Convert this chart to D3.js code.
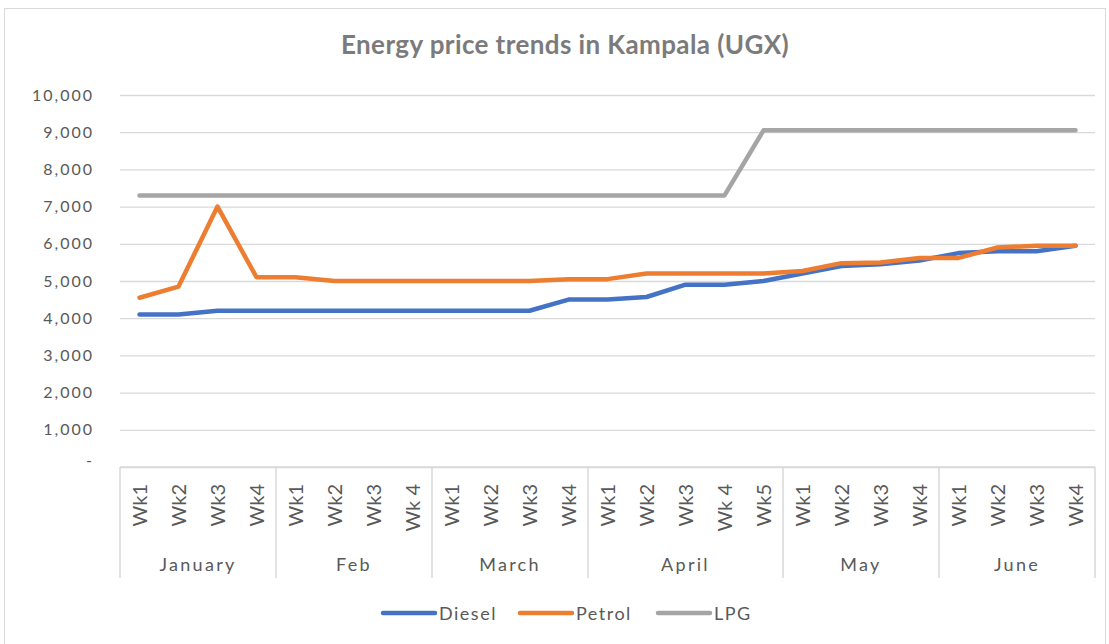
<!DOCTYPE html>
<html>
<head>
<meta charset="utf-8">
<script src="https://cdn.jsdelivr.net/npm/d3@7"></script>
<style>
  body { margin: 0; background: #fff; }
  svg { display: block; font-family: Lato, "Open Sans", sans-serif; }
</style>
</head>
<body>
<svg width="1109" height="644"></svg>
<script>
// month groups and their week labels
const months = ['January', 'Feb', 'March', 'April', 'May', 'June']
const weeks = [
    ['Wk1', 'Wk2', 'Wk3', 'Wk4'],
    ['Wk1', 'Wk2', 'Wk3', 'Wk 4'],
    ['Wk1', 'Wk2', 'Wk3', 'Wk4'],
    ['Wk1', 'Wk2', 'Wk3', 'Wk 4', 'Wk5'],
    ['Wk1', 'Wk2', 'Wk3', 'Wk4'],
    ['Wk1', 'Wk2', 'Wk3', 'Wk4']
]

const diesel = [4100, 4100, 4200, 4200, 4200, 4200, 4200, 4200, 4200, 4200, 4200, 4500,
    4500, 4570, 4900, 4900, 5000, 5200, 5400, 5450, 5550, 5750, 5800, 5800, 5950]
const petrol = [4550, 4850, 7000, 5100, 5100, 5000, 5000, 5000, 5000, 5000, 5000, 5050,
    5050, 5200, 5200, 5200, 5200, 5270, 5480, 5500, 5620, 5620, 5900, 5950, 5950]
const lpg = [7300, 7300, 7300, 7300, 7300, 7300, 7300, 7300, 7300, 7300, 7300, 7300,
    7300, 7300, 7300, 7300, 9050, 9050, 9050, 9050, 9050, 9050, 9050, 9050, 9050]

const yTicks = [0, 1000, 2000, 3000, 4000, 5000, 6000, 7000, 8000, 9000, 10000]

const series = [
    { name: 'Diesel', values: diesel, color: '#4472c4' },
    { name: 'Petrol', values: petrol, color: '#ed7d31' },
    { name: 'LPG', values: lpg, color: '#a5a5a5' }
]

const svg = d3.select('svg')
const textColor = '#595959'
const gridColor = '#d9d9d9'
const plotLeft = 120, plotRight = 1095, plotTop = 95, plotBottom = 467

// flat category keys
const cats = []
months.forEach((m, i) => weeks[i].forEach((w, j) => cats.push({ key: m + '|' + j, month: i, label: w })))

const x = d3.scaleBand().domain(cats.map(d => d.key)).range([plotLeft, plotRight])
const y = d3.scaleLinear().domain([0, 10000]).range([plotBottom, plotTop])

// chart border
svg.append('rect')
    .attr('x', 4.5).attr('y', 8.5)
    .attr('width', 1101).attr('height', 640)
    .style('fill', 'none').style('stroke', gridColor).style('stroke-width', 1)

svg.append('text')
    .attr('x', 565).attr('y', 54)
    .attr('text-anchor', 'middle')
    .style('font-size', '26px').style('font-weight', 'bold')
    .style('letter-spacing', '0.4px')
    .style('fill', '#7b7b7b')
    .text('Energy price trends in Kampala (UGX)')

// y axis (gridlines + labels)
const yAxis = d3.axisLeft(y)
    .tickValues(yTicks)
    .tickSize(-(plotRight - plotLeft))
    .tickPadding(26)
    .tickFormat(d => d === 0 ? '-' : d3.format(',')(d))
const gy = svg.append('g').attr('transform', `translate(${plotLeft},0)`).call(yAxis)
gy.select('.domain').remove()
gy.selectAll('.tick line').style('stroke', gridColor).style('stroke-width', 1.3)
gy.selectAll('.tick text').style('font-size', '16px').style('fill', textColor)
    .style('letter-spacing', '2px')
    .style('font-family', 'Lato, "Open Sans", sans-serif')
    .attr('dy', d => d === 0 ? '-0.1em' : '0.32em')

// x axis: week labels
const gx = svg.append('g').attr('transform', `translate(0,${plotBottom})`)
gx.append('line').attr('x1', plotLeft).attr('x2', plotRight).attr('y1', 0).attr('y2', 0)
    .style('stroke', gridColor).style('stroke-width', 1.5)
gx.selectAll('text.wk').data(cats).join('text')
    .attr('class', 'wk')
    .attr('transform', d => `translate(${x(d.key) + x.bandwidth() / 2 + 7},17) rotate(-90)`)
    .attr('text-anchor', 'end')
    .style('font-size', '20px').style('fill', textColor)
    .text(d => d.label)

// month separators and labels
let start = 0
const bounds = months.map((m, i) => {
    const s = start
    start += weeks[i].length
    return { month: m, x0: x(cats[s].key), x1: x(cats[start - 1].key) + x.bandwidth() }
})
const sepXs = [bounds[0].x0].concat(bounds.map(b => b.x1))
gx.selectAll('line.sep').data(sepXs).join('line')
    .attr('class', 'sep')
    .attr('x1', d => d).attr('x2', d => d)
    .attr('y1', 0).attr('y2', 111)
    .style('stroke', gridColor).style('stroke-width', 1.5)
gx.selectAll('text.month').data(bounds).join('text')
    .attr('class', 'month')
    .attr('x', d => (d.x0 + d.x1) / 2).attr('y', 104)
    .attr('text-anchor', 'middle')
    .style('font-size', '18px').style('letter-spacing', '2.3px').style('fill', textColor)
    .text(d => d.month)

// series lines
const line = d3.line()
    .x((d, i) => x(cats[i].key) + x.bandwidth() / 2)
    .y(d => y(d))

svg.selectAll('path.series').data(series).join('path')
    .attr('class', 'series')
    .attr('d', d => line(d.values))
    .style('fill', 'none')
    .style('stroke', d => d.color)
    .style('stroke-width', 4.5)
    .style('stroke-linecap', 'round')
    .style('stroke-linejoin', 'round')

// legend
const legendX = [383, 520, 658]
const lg = svg.selectAll('g.legend').data(series).join('g')
    .attr('class', 'legend')
    .attr('transform', (d, i) => `translate(${legendX[i]},613)`)
lg.append('line').attr('x1', 0).attr('x2', 52).attr('y1', 0).attr('y2', 0)
    .style('stroke', d => d.color).style('stroke-width', 4.5).style('stroke-linecap', 'round')
lg.append('text').attr('x', 56).attr('y', 7)
    .style('font-size', '18px').style('letter-spacing', '1.5px').style('fill', textColor)
    .text(d => d.name)
</script>
</body>
</html>
